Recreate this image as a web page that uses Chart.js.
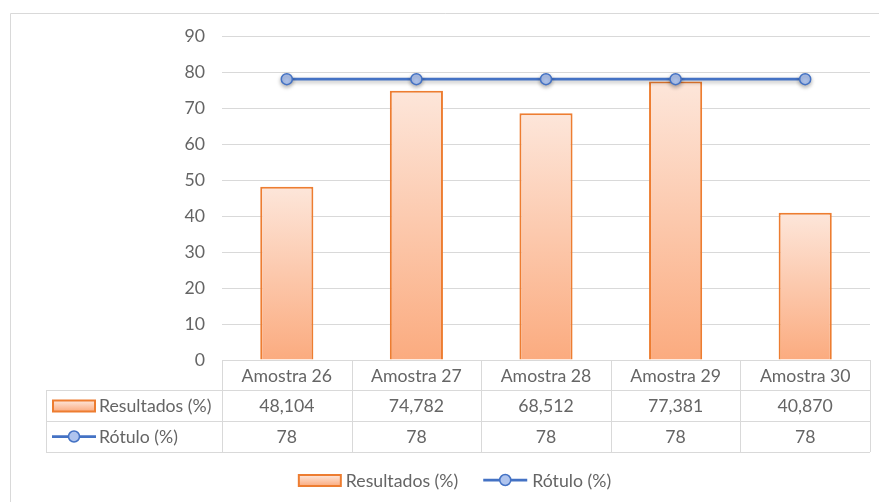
<!DOCTYPE html>
<html>
<head>
<meta charset="utf-8">
<script src="https://cdn.jsdelivr.net/npm/chart.js@4.4.1/dist/chart.umd.min.js"></script>
<style>
  html, body { margin: 0; padding: 0; background: #ffffff; }
  canvas { display: block; }
</style>
</head>
<body>
<canvas id="chart" width="879" height="502"></canvas>
<script>
// Samples shown on the category axis and in the data table
const categories = ['Amostra 26', 'Amostra 27', 'Amostra 28', 'Amostra 29', 'Amostra 30'];
// Measured results per sample (%)
const resultados = [48.104, 74.782, 68.512, 77.381, 40.870];
// Declared label value per sample (%)
const rotulo = [78, 78, 78, 78, 78];
// Series names
const seriesNames = ['Resultados (%)', 'Rótulo (%)'];
// Value axis range
const yMin = 0, yMax = 90, yStep = 10;

const FONT_SIZE = 17.7;
const FONT = FONT_SIZE + 'px Lato, "Liberation Sans", sans-serif';
const TEXT = '#656565';
const GRID = '#D9D9D9';
const ORANGE = '#ED7D31';
const BLUE = '#4472C4';
const MARKER = '#AFC4EE';

const fmtResult = v => v.toFixed(3).replace('.', ',');
const fmtRotulo = v => String(v);

function barKey(ctx, x, y, w, h) {
  const g = ctx.createLinearGradient(0, y, 0, y + h);
  g.addColorStop(0, '#FDE6DA');
  g.addColorStop(1, '#FBAB7F');
  ctx.fillStyle = g;
  ctx.fillRect(x, y, w, h);
  ctx.strokeStyle = ORANGE;
  ctx.lineWidth = 2;
  ctx.strokeRect(x, y, w, h);
}

function lineKey(ctx, x1, x2, y) {
  ctx.strokeStyle = BLUE;
  ctx.lineWidth = 2.75;
  ctx.beginPath();
  ctx.moveTo(x1, y);
  ctx.lineTo(x2, y);
  ctx.stroke();
  ctx.beginPath();
  ctx.arc((x1 + x2) / 2, y, 5.5, 0, Math.PI * 2);
  ctx.fillStyle = MARKER;
  ctx.fill();
  ctx.lineWidth = 1.5;
  ctx.stroke();
}

// Draws the outer frame, the data table under the plot and the bottom legend
const dataTablePlugin = {
  id: 'dataTable',
  beforeDatasetDraw(chart, args) {
    if (args.meta.type === 'line') {
      const c = chart.ctx;
      c.save();
      c.shadowColor = 'rgba(0,0,0,0.30)';
      c.shadowBlur = 4;
      c.shadowOffsetY = 2;
    }
  },
  afterDatasetDraw(chart, args) {
    if (args.meta.type === 'line') chart.ctx.restore();
  },
  afterDraw(chart) {
    const ctx = chart.ctx;
    const area = chart.chartArea;
    const xs = chart.scales.x;
    const n = categories.length;
    const colW = (area.right - area.left) / n;
    const labelLeft = 46;
    const rows = [area.bottom, 390, 421, 452];

    ctx.save();
    // outer frame
    ctx.strokeStyle = GRID;
    ctx.lineWidth = 1;
    ctx.beginPath();
    ctx.moveTo(10.5, chart.height + 5);
    ctx.lineTo(10.5, 13.5);
    ctx.lineTo(chart.width + 5, 13.5);
    ctx.stroke();

    // table grid
    ctx.strokeStyle = GRID;
    ctx.lineWidth = 1;
    ctx.beginPath();
    ctx.moveTo(area.left, rows[0] + 0.5); ctx.lineTo(area.right, rows[0] + 0.5);
    for (let r = 1; r < rows.length; r++) {
      ctx.moveTo(labelLeft, rows[r] + 0.5); ctx.lineTo(area.right, rows[r] + 0.5);
    }
    for (let i = 0; i <= n; i++) {
      const x = Math.round(area.left + i * colW) + 0.5;
      ctx.moveTo(x, rows[0]); ctx.lineTo(x, rows[3]);
    }
    ctx.moveTo(labelLeft + 0.5, rows[1]); ctx.lineTo(labelLeft + 0.5, rows[3]);
    ctx.stroke();

    // table text
    ctx.font = FONT;
    ctx.fillStyle = TEXT;
    ctx.textAlign = 'center';
    ctx.textBaseline = 'middle';
    const rowMid = r => (rows[r] + rows[r + 1]) / 2 + 1;
    categories.forEach((c, i) => {
      const x = xs.getPixelForValue(i);
      ctx.fillText(c, x, rowMid(0));
      ctx.fillText(fmtResult(resultados[i]), x, rowMid(1));
      ctx.fillText(fmtRotulo(rotulo[i]), x, rowMid(2));
    });

    // row headers with series keys
    barKey(ctx, 53, rowMid(1) - 6, 42, 11);
    lineKey(ctx, 52, 96, rowMid(2) - 1);
    ctx.fillStyle = TEXT;
    ctx.textAlign = 'left';
    ctx.fillText(seriesNames[0], 99, rowMid(1));
    ctx.fillText(seriesNames[1], 99, rowMid(2));

    // bottom legend
    const ly = 481;
    const keyW = 42, keyGap = 5, itemGap = 25;
    const w0 = ctx.measureText(seriesNames[0]).width;
    const w1 = ctx.measureText(seriesNames[1]).width;
    const total = keyW + keyGap + w0 + itemGap + keyW + 2 + keyGap + w1;
    let x = 455 - total / 2;
    barKey(ctx, x, ly - 6, keyW, 11);
    x += keyW + keyGap;
    ctx.fillStyle = TEXT;
    ctx.fillText(seriesNames[0], x, ly);
    x += w0 + itemGap;
    lineKey(ctx, x, x + keyW + 2, ly - 1);
    x += keyW + 2 + keyGap;
    ctx.fillStyle = TEXT;
    ctx.fillText(seriesNames[1], x, ly);
    ctx.restore();
  }
};

// Vertical gradient per bar, running from the bar's top down to the baseline
function barFill(c) {
  const chart = c.chart;
  const y = chart.scales && chart.scales.y;
  if (!y || c.type !== 'data') return '#FBC4A6';
  const top = y.getPixelForValue(c.raw);
  const bottom = y.getPixelForValue(0);
  if (!isFinite(top) || !isFinite(bottom) || top === bottom) return '#FBC4A6';
  const g = chart.ctx.createLinearGradient(0, top, 0, bottom);
  g.addColorStop(0, '#FDE6DA');
  g.addColorStop(1, '#FBAB7F');
  return g;
}

const chart = new Chart(document.getElementById('chart'), {
  data: {
    labels: categories,
    datasets: [
      {
        type: 'bar',
        label: seriesNames[0],
        data: resultados,
        order: 2,
        backgroundColor: barFill,
        borderColor: ORANGE,
        borderWidth: 2,
        categoryPercentage: 1,
        barPercentage: 0.41
      },
      {
        type: 'line',
        label: seriesNames[1],
        data: rotulo,
        order: 1,
        borderColor: BLUE,
        borderWidth: 2.75,
        pointRadius: 5.5,
        pointBackgroundColor: MARKER,
        pointBorderColor: BLUE,
        pointBorderWidth: 1.5,
        tension: 0
      }
    ]
  },
  options: {
    responsive: false,
    animation: false,
    devicePixelRatio: 1,
    layout: { padding: { left: 0, top: 36, right: 9, bottom: 142 } },
    plugins: { legend: { display: false }, tooltip: { enabled: false } },
    scales: {
      x: { display: false, offset: true },
      y: {
        min: yMin, max: yMax,
        afterFit(scale) { scale.width = 222; },
        ticks: { stepSize: yStep, padding: 17, color: TEXT, font: { family: 'Lato', size: FONT_SIZE } },
        grid: { color: GRID, lineWidth: 1, drawTicks: false },
        border: { display: false }
      }
    }
  },
  plugins: [dataTablePlugin]
});
// second pass so the bar gradients resolve against laid-out scales
chart.update();
</script>
</body>
</html>
